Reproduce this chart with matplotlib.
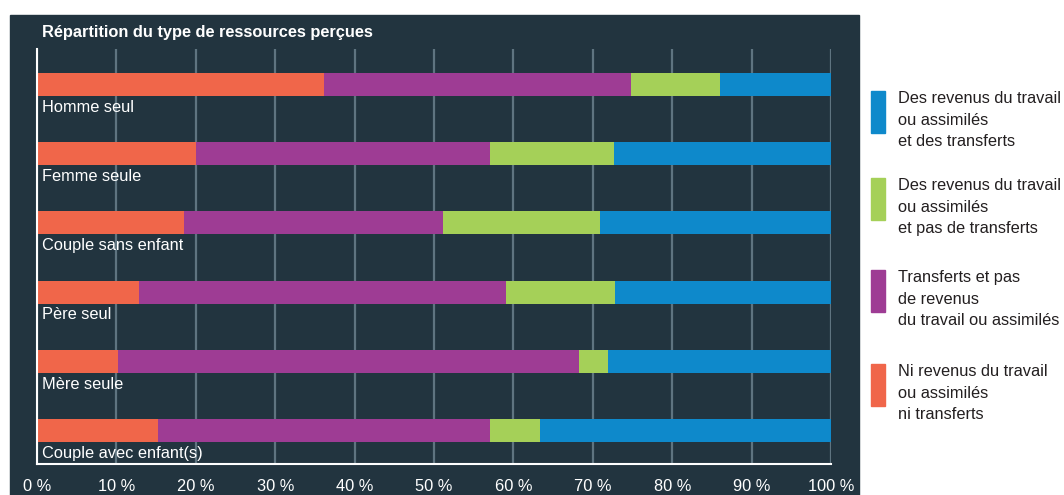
import numpy as np
import matplotlib.pyplot as plt
from matplotlib.patches import Rectangle

plt.rcParams['font.family'] = ['Liberation Sans', 'DejaVu Sans']

# data (percentages)
categories = ["Homme seul", "Femme seule", "Couple sans enfant",
              "Père seul", "Mère seule", "Couple avec enfant(s)"]
ni_ni = [36.2, 20.0, 18.5, 12.8, 10.2, 15.3]
transferts_seuls = [38.6, 37.1, 32.6, 46.3, 58.1, 41.7]
travail_sans_transf = [11.2, 15.6, 19.8, 13.7, 3.6, 6.3]
travail_et_transf = [14.0, 27.3, 29.1, 27.2, 28.1, 36.7]

series = [ni_ni, transferts_seuls, travail_sans_transf, travail_et_transf]
colors = ["#F0664A", "#9E3C94", "#A5D058", "#0E89CB"]
legend_labels = [
    "Ni revenus du travail\nou assimilés\nni transferts",
    "Transferts et pas\nde revenus\ndu travail ou assimilés",
    "Des revenus du travail\nou assimilés\net pas de transferts",
    "Des revenus du travail\nou assimilés\net des transferts",
]
xticks = np.arange(0, 101, 10)
xtick_labels = [f"{t} %" for t in xticks]

bg = "#22343F"
grid_col = "#5F7480"

fig = plt.figure(figsize=(10.64, 4.95), dpi=100)
W, H = 1064, 495

# dark panel behind the chart
fig.patches.append(Rectangle((10 / W, 0), 849 / W, 480 / H,
                             transform=fig.transFigure, color=bg, zorder=-1))

ax = fig.add_axes([37 / W, 1 - 464 / H, 794 / W, 415 / H])
ax.set_facecolor(bg)

y = np.arange(len(categories))
left = np.zeros(len(categories))
for vals, col in zip(series, colors):
    ax.barh(y, vals, left=left, height=0.332, color=col, zorder=3)
    left += np.array(vals)

for i, name in enumerate(categories):
    ax.text(0.65, y[i] + 0.33, name, color="white", fontsize=11.8,
            va="center", ha="left", zorder=4)

ax.set_xlim(0, 100)
ax.set_ylim(5.484, -0.513)
ax.set_yticks([])
ax.set_xticks(xticks)
ax.set_xticklabels(xtick_labels, color="white", fontsize=11.8)
ax.tick_params(axis="x", length=0, pad=11)
ax.grid(axis="x", color=grid_col, linewidth=1.6, zorder=1)
for s in ["top", "right"]:
    ax.spines[s].set_visible(False)
for s in ["left", "bottom"]:
    ax.spines[s].set_color("white")
    ax.spines[s].set_linewidth(1.5)
    ax.spines[s].set_zorder(5)

fig.text(42 / W, 1 - 32 / H, "Répartition du type de ressources perçues",
         color="white", fontsize=11.8, fontweight="bold", va="center", ha="left")

# legend, drawn by hand (blue on top)
tops = [364, 270, 178, 91]
for lab, col, top in zip(legend_labels, colors, tops):
    fig.patches.append(Rectangle((871 / W, 1 - (top + 42) / H), 14 / W, 42 / H,
                                 transform=fig.transFigure, color=col))
    fig.text(898 / W, 1 - top / H, lab, color="#231F20", fontsize=11.8,
             va="top", ha="left", linespacing=1.56)

fig.savefig("out.png", dpi=100)
